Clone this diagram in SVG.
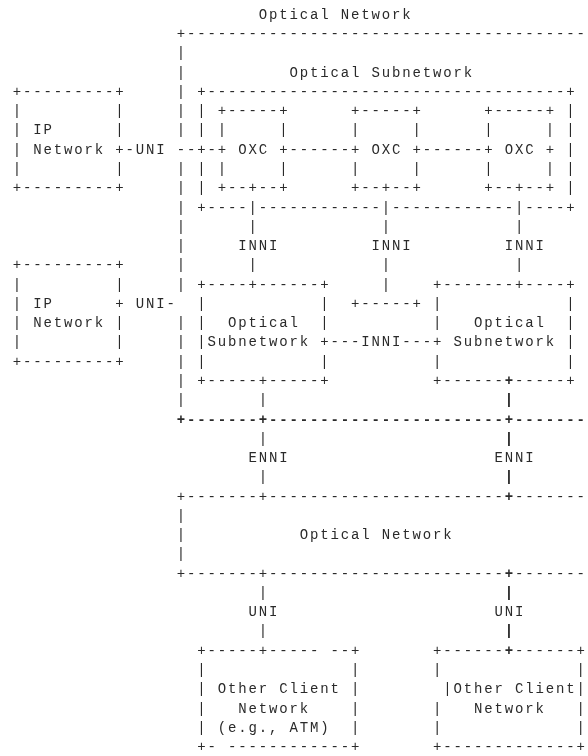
<svg xmlns="http://www.w3.org/2000/svg" width="588" height="756" viewBox="0 0 588 756">
<defs>
<filter id="gray" x="0" y="0" width="1" height="1"><feColorMatrix type="saturate" values="0"/></filter>
</defs>
<style>
text{font-family:"Liberation Mono","Courier New",monospace;font-size:14px;letter-spacing:1.85px;fill:#2a2a2a}
.b{font-weight:bold}
</style>
<rect width="588" height="756" fill="#fff"/>
<g filter="url(#gray)">
<g id="optical-network-upper">
<text x="258.8" y="18.8">Optical Network</text>
<text x="176.8" y="38.1">+---------------------------------------</text>
<text x="176.8" y="57.3">|</text>
<text x="176.8" y="76.6">|</text>
<text x="176.8" y="95.9">|</text>
<text x="176.8" y="115.2">|</text>
<text x="176.8" y="134.4">|</text>
<text x="176.8" y="173">|</text>
<text x="176.8" y="192.2">|</text>
<text x="176.8" y="211.5">|</text>
<text x="176.8" y="230.8">|</text>
<text x="176.8" y="250">|</text>
<text x="176.8" y="269.3">|</text>
<text x="176.8" y="288.6">|</text>
<text x="176.8" y="327.1">|</text>
<text x="176.8" y="346.4">|</text>
<text x="176.8" y="365.7">|</text>
<text x="176.8" y="384.9">|</text>
<text x="176.8" y="404.2">|</text>
<text class="b" x="176.8" y="423.5">+-------+-----------------------+-------</text>
</g>
<g id="optical-subnetwork">
<text x="289.55" y="76.6">Optical Subnetwork</text>
<text x="197.3" y="95.9">+-----------------------------------+</text>
<text x="197.3" y="115.2">|</text><text x="566.3" y="115.2">|</text>
<text x="197.3" y="134.4">|</text><text x="566.3" y="134.4">|</text>
<text x="197.3" y="153.7">+</text><text x="566.3" y="153.7">|</text>
<text x="197.3" y="173">|</text><text x="566.3" y="173">|</text>
<text x="197.3" y="192.2">|</text><text x="566.3" y="192.2">|</text>
<text x="197.3" y="211.5">+----|------------|------------|----+</text>
</g>
<g id="oxc-1">
<text x="217.8" y="115.2">+-----+</text>
<text x="217.8" y="134.4">|</text><text x="279.3" y="134.4">|</text>
<text x="217.8" y="153.7">+</text><text x="238.3" y="153.7">OXC</text><text x="279.3" y="153.7">+</text>
<text x="217.8" y="173">|</text><text x="279.3" y="173">|</text>
<text x="217.8" y="192.2">+--+--+</text>
</g>
<g id="oxc-2">
<text x="351.05" y="115.2">+-----+</text>
<text x="351.05" y="134.4">|</text><text x="412.55" y="134.4">|</text>
<text x="351.05" y="153.7">+</text><text x="371.55" y="153.7">OXC</text><text x="412.55" y="153.7">+</text>
<text x="351.05" y="173">|</text><text x="412.55" y="173">|</text>
<text x="351.05" y="192.2">+--+--+</text>
</g>
<g id="oxc-3">
<text x="484.3" y="115.2">+-----+</text>
<text x="484.3" y="134.4">|</text><text x="545.8" y="134.4">|</text>
<text x="484.3" y="153.7">+</text><text x="504.8" y="153.7">OXC</text><text x="545.8" y="153.7">+</text>
<text x="484.3" y="173">|</text><text x="545.8" y="173">|</text>
<text x="484.3" y="192.2">+--+--+</text>
</g>
<g id="ip-network-1">
<text x="12.8" y="95.9">+---------+</text>
<text x="12.8" y="115.2">|</text><text x="115.3" y="115.2">|</text>
<text x="12.8" y="134.4">|</text><text x="33.3" y="134.4">IP</text><text x="115.3" y="134.4">|</text>
<text x="12.8" y="153.7">|</text><text x="33.3" y="153.7">Network</text><text x="115.3" y="153.7">+</text>
<text x="12.8" y="173">|</text><text x="115.3" y="173">|</text>
<text x="12.8" y="192.2">+---------+</text>
</g>
<g id="ip-network-2">
<text x="12.8" y="269.3">+---------+</text>
<text x="12.8" y="288.6">|</text><text x="115.3" y="288.6">|</text>
<text x="12.8" y="307.9">|</text><text x="33.3" y="307.9">IP</text><text x="115.3" y="307.9">+</text>
<text x="12.8" y="327.1">|</text><text x="33.3" y="327.1">Network</text><text x="115.3" y="327.1">|</text>
<text x="12.8" y="346.4">|</text><text x="115.3" y="346.4">|</text>
<text x="12.8" y="365.7">+---------+</text>
</g>
<g id="optical-subnetwork-left">
<text x="197.3" y="288.6">+----+------+</text>
<text x="197.3" y="307.9">|</text><text x="320.3" y="307.9">|</text>
<text x="197.3" y="327.1">|</text><text x="228.05" y="327.1">Optical</text><text x="320.3" y="327.1">|</text>
<text x="197.3" y="346.4">|Subnetwork</text><text x="320.3" y="346.4">+</text>
<text x="197.3" y="365.7">|</text><text x="320.3" y="365.7">|</text>
<text x="197.3" y="384.9">+-----+-----+</text>
</g>
<g id="optical-subnetwork-right">
<text x="433.05" y="288.6">+-------+----+</text>
<text x="433.05" y="307.9">|</text><text x="566.3" y="307.9">|</text>
<text x="433.05" y="327.1">|</text><text x="474.05" y="327.1">Optical</text><text x="566.3" y="327.1">|</text>
<text x="433.05" y="346.4">+</text><text x="453.55" y="346.4">Subnetwork</text><text x="566.3" y="346.4">|</text>
<text x="433.05" y="365.7">|</text><text x="566.3" y="365.7">|</text>
<text x="433.05" y="384.9">+------</text><text class="b" x="504.8" y="384.9">+</text><text x="515.05" y="384.9">-----+</text>
</g>
<g id="optical-network-lower">
<text x="176.8" y="500.6">+-------+-----------------------</text><text class="b" x="504.8" y="500.6">+</text><text x="515.05" y="500.6">-------</text>
<text x="176.8" y="519.8">|</text>
<text x="176.8" y="539.1">|</text><text x="299.8" y="539.1">Optical Network</text>
<text x="176.8" y="558.4">|</text>
<text x="176.8" y="577.6">+-------+-----------------------</text><text class="b" x="504.8" y="577.6">+</text><text x="515.05" y="577.6">-------</text>
</g>
<g id="client-network-left">
<text x="197.3" y="654.7">+-----+-----</text><text x="330.55" y="654.7">--+</text>
<text x="197.3" y="674">|</text><text x="351.05" y="674">|</text>
<text x="197.3" y="693.3">|</text><text x="217.8" y="693.3">Other Client</text><text x="351.05" y="693.3">|</text>
<text x="197.3" y="712.5">|</text><text x="238.3" y="712.5">Network</text><text x="351.05" y="712.5">|</text>
<text x="197.3" y="731.8">|</text><text x="217.8" y="731.8">(e.g., ATM)</text><text x="351.05" y="731.8">|</text>
<text x="197.3" y="751.1">+-</text><text x="228.05" y="751.1">------------+</text>
</g>
<g id="client-network-right">
<text x="433.05" y="654.7">+------</text><text class="b" x="504.8" y="654.7">+</text><text x="515.05" y="654.7">------+</text>
<text x="433.05" y="674">|</text><text x="576.55" y="674">|</text>
<text x="443.3" y="693.3">|Other Client|</text>
<text x="433.05" y="712.5">|</text><text x="474.05" y="712.5">Network</text><text x="576.55" y="712.5">|</text>
<text x="433.05" y="731.8">|</text><text x="576.55" y="731.8">|</text>
<text x="433.05" y="751.1">+-------------+</text>
</g>
<g id="connectors">
<text x="125.55" y="153.7">-UNI</text>
<text x="176.8" y="153.7">--</text>
<text x="207.55" y="153.7">-</text>
<text x="289.55" y="153.7">------</text>
<text x="422.8" y="153.7">------</text>
<text x="248.55" y="230.8">|</text><text x="381.8" y="230.8">|</text><text x="515.05" y="230.8">|</text>
<text x="238.3" y="250">INNI</text><text x="371.55" y="250">INNI</text><text x="504.8" y="250">INNI</text>
<text x="248.55" y="269.3">|</text><text x="381.8" y="269.3">|</text><text x="515.05" y="269.3">|</text>
<text x="381.8" y="288.6">|</text>
<text x="135.8" y="307.9">UNI-</text>
<text x="351.05" y="307.9">+-----+</text>
<text x="330.55" y="346.4">---INNI---</text>
<text x="258.8" y="404.2">|</text><text class="b" x="504.8" y="404.2">|</text>
<text x="258.8" y="442.7">|</text><text class="b" x="504.8" y="442.7">|</text>
<text x="248.55" y="462">ENNI</text><text x="494.55" y="462">ENNI</text>
<text x="258.8" y="481.3">|</text><text class="b" x="504.8" y="481.3">|</text>
<text x="258.8" y="596.9">|</text><text class="b" x="504.8" y="596.9">|</text>
<text x="248.55" y="616.2">UNI</text><text x="494.55" y="616.2">UNI</text>
<text x="258.8" y="635.4">|</text><text class="b" x="504.8" y="635.4">|</text>
</g>
</g>
</svg>
